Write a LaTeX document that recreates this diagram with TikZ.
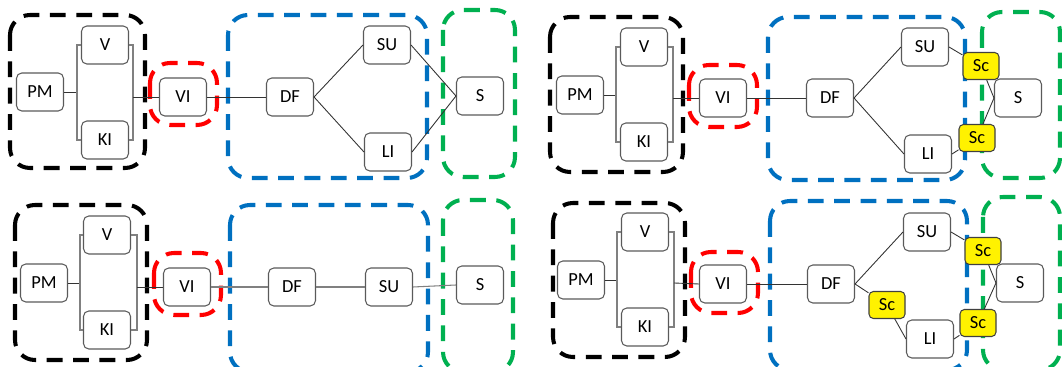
\documentclass[tikz,border=0pt]{standalone}
\usepackage{fontspec}
\setmainfont{Carlito}
\usepackage{xcolor}
\definecolor{grpred}{RGB}{255,0,0}
\definecolor{grpblue}{RGB}{0,112,192}
\definecolor{grpgreen}{RGB}{0,176,80}
\definecolor{boxgray}{RGB}{90,90,90}
\usetikzlibrary{positioning}
\tikzset{
  blk/.style={draw=boxgray, fill=white, rounded corners=3pt, line width=0.6pt, minimum width=0.94cm, minimum height=0.76cm, font=\fontsize{10.5}{12}\selectfont, inner sep=1pt},
  scbox/.style={draw=black!75, fill=yellow, rounded corners=2.5pt, line width=0.6pt, minimum width=0.72cm, minimum height=0.54cm, font=\fontsize{10.5}{12}\selectfont, inner sep=1pt},
  grp/.style={line width=2.3pt, dash pattern=on 9pt off 6pt, rounded corners=0.4cm},
  link/.style={draw=black!80, line width=0.5pt},
  brk/.style={draw=gray, line width=0.6pt}
}

\begin{document}
\begin{tikzpicture}[x=0.02cm, y=-0.02cm]
  \useasboundingbox (0,0) rectangle (1062,367);
  % group frames
  \draw[grp, black] (10,15) rectangle (145,168);
  \draw[grp, grpred] (150,63) rectangle (217,125);
  \draw[grp, grpblue] (228,15) rectangle (427,178);
  \draw[grp, grpgreen] (443,10) rectangle (515,177);
  \draw[grp, black] (550,17) rectangle (683,172);
  \draw[grp, grpred] (689,65) rectangle (757,127);
  \draw[grp, grpblue] (768,17) rectangle (965,180);
  \draw[grp, grpgreen] (982,12) rectangle (1060,178);
  \draw[grp, black] (15,205) rectangle (147,360);
  \draw[grp, grpred] (154,253) rectangle (221,315);
  \draw[grp, grpblue] (230,205) rectangle (428,372);
  \draw[grp, grpgreen] (443,200) rectangle (513,372);
  \draw[grp, black] (553,203) rectangle (685,357);
  \draw[grp, grpred] (691,252) rectangle (758,313);
  \draw[grp, grpblue] (770,201) rectangle (967,370);
  \draw[grp, grpgreen] (983,197) rectangle (1060,370);

  % top left
  \node[blk] (pma) at (40,92) {PM};
  \node[blk] (va) at (105,45) {V};
  \node[blk] (kia) at (105,140) {KI};
  \node[blk] (via) at (183,97) {VI};
  \node[blk] (dfa) at (290,97) {DF};
  \node[blk] (sua) at (387,45) {SU};
  \node[blk] (lia) at (388,152) {LI};
  \node[blk] (sa) at (480,96) {S};
  \coordinate (bla) at (77,92);
  \coordinate (bra) at (133,97);
  \draw[link] (pma.east) -- (bla);
  \draw[brk] (va.west) -| (bla) |- (kia.west);
  \draw[brk] (va.east) -| (bra) |- (kia.east);
  \draw[link] (bra) -- (via.west);
  \draw[link] (via.east) -- (dfa.west);
  \draw[link] (dfa.east) -- (sua.west);
  \draw[link] (dfa.east) -- (lia.west);
  \draw[link] (sua.east) -- (sa.west);
  \draw[link] (lia.east) -- (sa.west);

  % top right
  \node[blk] (pmb) at (580,95) {PM};
  \node[blk] (vb) at (644,47) {V};
  \node[blk] (kib) at (644,142) {KI};
  \node[blk] (vib) at (723,98) {VI};
  \node[blk] (dfb) at (830,98) {DF};
  \node[blk] (sub) at (925,47) {SU};
  \node[blk] (lib) at (928,154) {LI};
  \node[blk] (sb) at (1018,98) {S};
  \node[scbox] (scb1) at (981,66) {Sc};
  \node[scbox] (scb2) at (977,138) {Sc};
  \coordinate (blb) at (616,95);
  \coordinate (brb) at (673,98);
  \draw[link] (pmb.east) -- (blb);
  \draw[brk] (vb.west) -| (blb) |- (kib.west);
  \draw[brk] (vb.east) -| (brb) |- (kib.east);
  \draw[link] (brb) -- (vib.west);
  \draw[link] (vib.east) -- (dfb.west);
  \draw[link] (dfb.east) -- (sub.west);
  \draw[link] (dfb.east) -- (lib.west);
  \draw[link] (sub.east) -- (scb1);
  \draw[link] (scb1) -- (sb.west);
  \draw[link] (lib.east) -- (scb2);
  \draw[link] (scb2) -- (sb.west);

  % bottom left
  \node[blk] (pmc) at (44,283) {PM};
  \node[blk] (vc) at (107,235) {V};
  \node[blk] (kic) at (107,330) {KI};
  \node[blk] (vic) at (187,287) {VI};
  \node[blk] (dfc) at (292,287) {DF};
  \node[blk] (suc) at (389,287) {SU};
  \node[blk] (sc) at (480,285) {S};
  \coordinate (blc) at (80,283);
  \coordinate (brc) at (137,287);
  \draw[link] (pmc.east) -- (blc);
  \draw[brk] (vc.west) -| (blc) |- (kic.west);
  \draw[brk] (vc.east) -| (brc) |- (kic.east);
  \draw[link] (brc) -- (vic.west);
  \draw[brk] (vic.east) -- (dfc.west);
  \draw[brk] (dfc.east) -- (suc.west);
  \draw[brk] (suc.east) -- (sc.west);

  % bottom right
  \node[blk] (pmd) at (581,280) {PM};
  \node[blk] (vd) at (645,232) {V};
  \node[blk] (kid) at (645,327) {KI};
  \node[blk] (vid) at (723,284) {VI};
  \node[blk] (dfd) at (831,284) {DF};
  \node[blk] (sud) at (927,232) {SU};
  \node[blk] (lid) at (930,339) {LI};
  \node[blk] (sd) at (1020,283) {S};
  \node[scbox] (scd0) at (887,305) {Sc};
  \node[scbox] (scd1) at (983,251) {Sc};
  \node[scbox] (scd2) at (978,323) {Sc};
  \coordinate (bld) at (617,280);
  \coordinate (brd) at (674,283);
  \draw[link] (pmd.east) -- (bld);
  \draw[brk] (vd.west) -| (bld) |- (kid.west);
  \draw[brk] (vd.east) -| (brd) |- (kid.east);
  \draw[link] (brd) -- (vid.west);
  \draw[link] (vid.east) -- (dfd.west);
  \draw[link] (dfd.east) -- (sud.west);
  \draw[link] (dfd.east) -- (scd0);
  \draw[link] (scd0) -- (lid.west);
  \draw[link] (sud.east) -- (scd1);
  \draw[link] (scd1) -- (sd.west);
  \draw[link] (lid.east) -- (scd2);
  \draw[link] (scd2) -- (sd.west);
\end{tikzpicture}
\end{document}
